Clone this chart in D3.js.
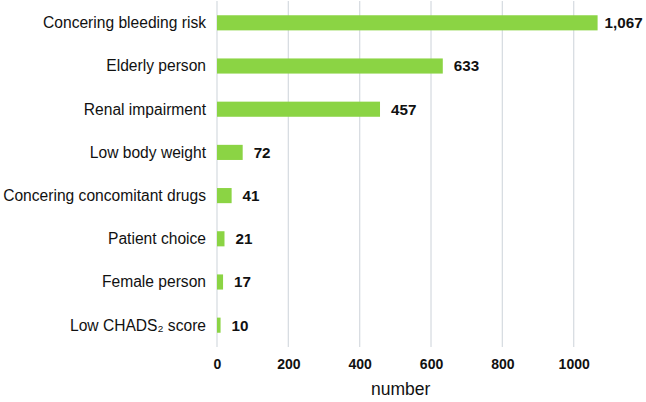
<!DOCTYPE html>
<html>
<head>
<meta charset="utf-8">
<script src="https://cdn.jsdelivr.net/npm/d3@7"></script>
<style>
  body { margin: 0; background: #fff; }
  svg { display: block; font-family: "Liberation Sans", Arial, sans-serif; }
</style>
</head>
<body>
<div id="chart"></div>
<script>
const categories = [
  "Concering bleeding risk",
  "Elderly person",
  "Renal impairment",
  "Low body weight",
  "Concering concomitant drugs",
  "Patient choice",
  "Female person",
  "Low CHADS\u2082 score"
];
const counts = [1067, 633, 457, 72, 41, 21, 17, 10];
const xTicks = [0, 200, 400, 600, 800, 1000];

const width = 646, height = 402;
const margin = { top: 1, right: 32, bottom: 55, left: 217 };

const svg = d3.select("#chart").append("svg")
  .attr("width", width)
  .attr("height", height);

const x = d3.scaleLinear()
  .domain([0, 1113])
  .range([margin.left, width - margin.right]);

const y = d3.scaleBand()
  .domain(categories)
  .range([margin.top, height - margin.bottom])
  .paddingInner(0.65)
  .paddingOuter(0.33);

// gridlines
svg.append("g")
  .selectAll("line")
  .data(xTicks)
  .join("line")
    .attr("x1", d => x(d))
    .attr("x2", d => x(d))
    .attr("y1", margin.top)
    .attr("y2", height - margin.bottom)
    .attr("stroke", "#d8dde2")
    .attr("stroke-width", 1.3);

// tick labels
const xAxis = svg.append("g")
  .attr("transform", `translate(0,${height - margin.bottom})`)
  .call(d3.axisBottom(x).tickValues(xTicks).tickFormat(d3.format("d")).tickSize(0).tickPadding(12));
xAxis.select(".domain").remove();
xAxis.selectAll("text")
  .attr("font-family", "Liberation Sans, Arial, sans-serif")
  .attr("font-size", 14)
  .attr("font-weight", "bold")
  .attr("fill", "#111");

svg.append("text")
  .attr("x", x(515))
  .attr("y", height - 7)
  .attr("text-anchor", "middle")
  .attr("font-size", 17.5)
  .attr("fill", "#111")
  .text("number");

// category labels
svg.append("g")
  .selectAll("text")
  .data(categories)
  .join("text")
    .attr("x", margin.left - 11)
    .attr("y", d => y(d) + y.bandwidth() / 2)
    .attr("dy", "0.35em")
    .attr("text-anchor", "end")
    .attr("font-size", 15.6)
    .attr("fill", "#111")
    .text(d => d);

// bars
svg.append("g")
  .attr("fill", "#8bd444")
  .selectAll("rect")
  .data(counts)
  .join("rect")
    .attr("x", x(0))
    .attr("y", (d, i) => y(categories[i]))
    .attr("width", d => x(d) - x(0))
    .attr("height", y.bandwidth());

// value labels
svg.append("g")
  .selectAll("text")
  .data(counts)
  .join("text")
    .attr("x", d => x(d) + (d > 1000 ? 7 : 11))
    .attr("y", (d, i) => y(categories[i]) + y.bandwidth() / 2)
    .attr("dy", "0.35em")
    .attr("font-size", 15.2)
    .attr("font-weight", "bold")
    .attr("fill", "#111")
    .text(d => d3.format(",")(d));
</script>
</body>
</html>
